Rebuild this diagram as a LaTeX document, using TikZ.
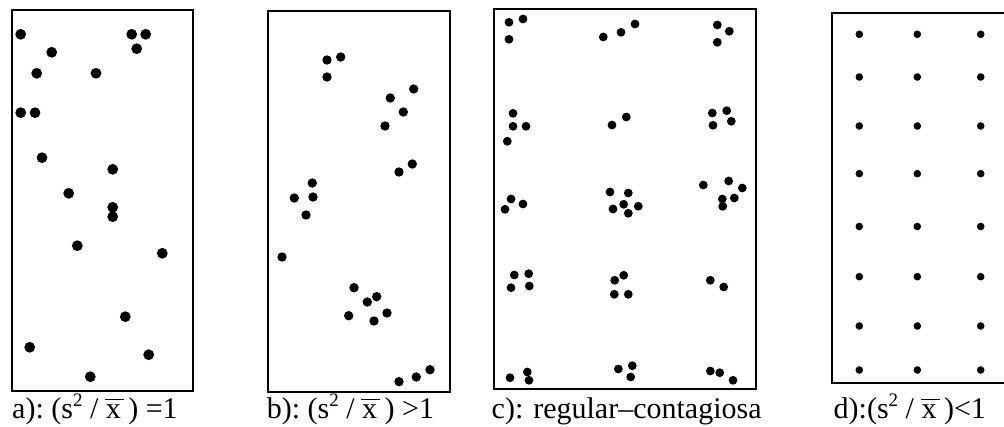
\documentclass[tikz,border=0pt]{standalone}
\usepackage{fontspec}
\setmainfont{Liberation Serif}
\newcommand{\sqr}{s\raisebox{12.5pt}{\fontsize{19}{19}\selectfont 2}}
\newcommand{\xbr}{\makebox[0pt][l]{\hspace{-1pt}\raisebox{18.5pt}{\rule{19pt}{1.4pt}}}x}
\tikzset{
  panel/.style={draw=black, line width=2pt},
  lbl/.style={anchor=base west, inner sep=0pt, font=\fontsize{30}{32}\selectfont},
}
\begin{document}
\begin{tikzpicture}[x=1pt,y=-1pt]
\useasboundingbox (0,0) rectangle (1004,427);
% panel a
\draw[panel] (12,10) rectangle (193,391);
\foreach \p in {(20.7,34.3),(131.7,34.3),(145.7,34.3),(51.7,52.3),(136.7,48.7),(36.7,73.3),(96,73.3),(20.7,112.7),(35,112.7),(42,157.7),(112.7,169.3),(68.7,193.3),(112.7,207.3),(112.7,216.7),(77.3,245.7),(162.3,253.3),(125.3,316.7),(29.7,347.3),(148.7,354.7),(90.3,376.7)}
  \fill \p circle (5.4);
\node[lbl] (la) at (12,418.5) {a):\ (\sqr\ /\ \xbr\ )\ =1};
% panel b
\draw[panel] (268.3,11) rectangle (450,391.7);
\foreach \p in {(327,60),(340.7,57),(327,77),(413.7,89),(390.3,98),(403.3,112),(385,126),(412.3,164),(399,172),(312.3,183),(294.3,198),(313,197),(306,215),(282,257),(354,287.7),(376.7,296.7),(367.3,302),(348.7,315.7),(387,313),(374,321),(430,369.7),(416.3,377),(399,381.7)}
  \fill \p circle (4.7);
\node[lbl] (lb) at (266.7,418.5) {b):\ (\sqr\ /\ \xbr\ )\ >1};
% panel c
\draw[panel] (494,9) rectangle (755.7,389.3);
\foreach \p in {(509,22.3),(523,19),(509,39.3),(603.3,37),(621,32.3),(635,24),(717.3,25),(729.3,31.3),(717.3,42.3),
(513,113.3),(513,126.3),(526,126.3),(507.3,141.3),(612,125),(626.3,117),(712.3,113),(726.7,110.7),(731.3,121.3),(713,125.3),
(511,199),(523,204),(505,209.3),(610,192),(628.3,193),(623.7,204.3),(613,209),(638.3,206.3),(628.3,213.3),(703.3,185),(728.7,181),(742.3,188),(734.3,198),(722.3,199),(722.7,206.3),
(514.3,275),(528.7,273.7),(511,287.7),(529.3,286),(623.7,275.3),(614.7,280.3),(614.3,294.3),(628.3,294.3),(710.3,280.3),(723.7,287),
(510,377.7),(527.3,372),(529,380.3),(618.3,369),(632.3,365.7),(630.7,377),(710.3,371),(719.7,372.7),(733,380.3)}
  \fill \p circle (4.4);
\node[lbl] (lc) at (491.5,418.5) {c): regular–contagiosa};
% panel d
\begin{scope}
\clip (0,0) rectangle (1004,427);
\draw[panel] (832.3,13.3) rectangle (1012,383.3);
\end{scope}
\foreach \y in {34.3,77,126,173.7,226.5,276.7,326,370}
  \foreach \x in {859.3,917.3,980.7}
    \fill (\x,\y) circle (3.8);
\node[lbl] (ld) at (833.5,418.5) {d):(\sqr\ /\ \xbr\ )<1};
\end{tikzpicture}
\end{document}
